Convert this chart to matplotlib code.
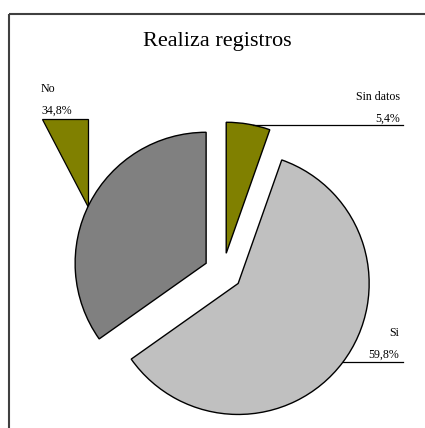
import numpy as np
import matplotlib
matplotlib.use("Agg")
import matplotlib.pyplot as plt
from matplotlib.patches import Polygon

# Data
categories = ["Sin datos", "Si", "No"]
values = [5.4, 59.8, 34.8]
value_labels = ["5,4%", "59,8%", "34,8%"]
colors = ["#808000", "#C0C0C0", "#808080"]
title = "Realiza registros"

W, H = 425, 428
fig = plt.figure(figsize=(W / 100, H / 100), dpi=100)
ax = fig.add_axes([0, 0, 1, 1])

# Pie geometry in pixel-like units (y upward)
cx, cy = 223, H - 272
R = 131
explode_dist = 19

wedges, _ = ax.pie(values, colors=colors, startangle=90, counterclock=False,
                   radius=R, center=(cx, cy), explode=[explode_dist] * 3,
                   wedgeprops=dict(edgecolor="black", linewidth=1.0),
                   frame=False)

ax.set_xlim(0, W)
ax.set_ylim(0, H)
ax.set_aspect("equal")
ax.axis("off")

def arc_x_at_y(wedge, y, side=1):
    xc, yc = wedge.center
    r = wedge.r
    return xc + side * np.sqrt(max(r ** 2 - (y - yc) ** 2, 0))

def arc_y_at_x(wedge, x, side=1):
    xc, yc = wedge.center
    r = wedge.r
    return yc + side * np.sqrt(max(r ** 2 - (x - xc) ** 2, 0))

font = "Liberation Serif"
lab_fs = 8.6
lc = "black"

# Sin datos label and leader
y_sd = H - 125
ax.plot([arc_x_at_y(wedges[0], y_sd), 403], [y_sd, y_sd], color=lc, lw=0.9)
ax.text(400, H - 100, categories[0], ha="right", va="baseline",
        family=font, fontsize=lab_fs)
ax.text(400, H - 122, value_labels[0], ha="right", va="baseline",
        family=font, fontsize=lab_fs)

# Si label and leader
y_si = H - 362
ax.plot([arc_x_at_y(wedges[1], y_si), 403], [y_si, y_si], color=lc, lw=0.9)
ax.text(399, H - 336, categories[1], ha="right", va="baseline",
        family=font, fontsize=lab_fs)
ax.text(399, H - 358, value_labels[1], ha="right", va="baseline",
        family=font, fontsize=lab_fs)

# No label with filled leader
x_no = 88
y_top = H - 119
y_edge = arc_y_at_x(wedges[2], x_no, side=1)
ax.add_patch(Polygon([[42, y_top], [x_no, y_top], [x_no, y_edge]],
                     closed=True, facecolor="#808000", edgecolor="black",
                     lw=0.9, zorder=0.5))
ax.text(41, H - 92, categories[2], ha="left", va="baseline",
        family=font, fontsize=lab_fs)
ax.text(41, H - 114, value_labels[2], ha="left", va="baseline",
        family=font, fontsize=lab_fs)

# Title
ax.text(217.5, H - 46, title, ha="center", va="baseline",
        family=font, fontsize=16)

# Chart area border (top and left)
ax.plot([9, 9], [0, H - 13.5], color="#404040", lw=1.5, solid_capstyle="butt")
ax.plot([9, W], [H - 13.5, H - 13.5], color="#404040", lw=1.5, solid_capstyle="butt")

fig.savefig("out.png", dpi=100)
